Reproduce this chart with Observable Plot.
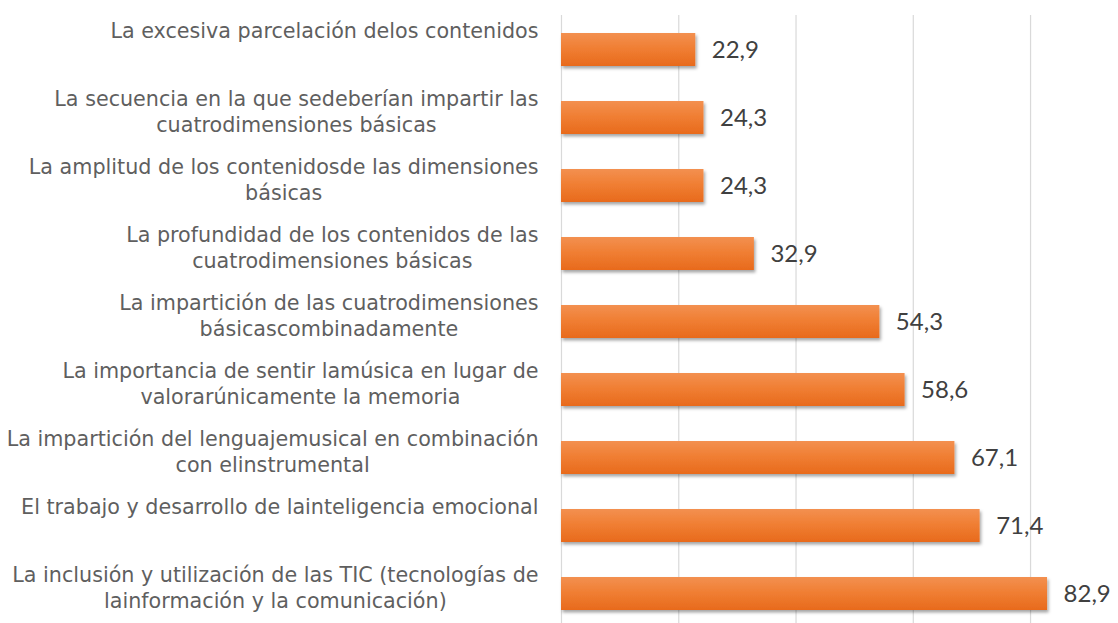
<!DOCTYPE html>
<html>
<head>
<meta charset="utf-8">
<script src="https://cdn.jsdelivr.net/npm/d3@7"></script>
<script src="https://cdn.jsdelivr.net/npm/@observablehq/plot@0.6"></script>
<style>
  html, body { margin: 0; padding: 0; background: #fff; }
  #chart { width: 1118px; height: 623px; overflow: hidden; }
</style>
</head>
<body>
<div id="chart"></div>
<script>
const categories = [
  "La excesiva parcelación delos contenidos",
  "La secuencia en la que sedeberían impartir las\ncuatrodimensiones básicas",
  "La amplitud de los contenidosde las dimensiones\nbásicas",
  "La profundidad de los contenidos de las\ncuatrodimensiones básicas",
  "La impartición de las cuatrodimensiones\nbásicascombinadamente",
  "La importancia de sentir lamúsica en lugar de\nvalorarúnicamente la memoria",
  "La impartición del lenguajemusical en combinación\ncon elinstrumental",
  "El trabajo y desarrollo de lainteligencia emocional",
  "La inclusión y utilización de las TIC (tecnologías de\nlainformación y la comunicación)"
];
const values = [22.9, 24.3, 24.3, 32.9, 54.3, 58.6, 67.1, 71.4, 82.9];
const gridTicks = [0, 20, 40, 60, 80, 100];

const W = 1118, H = 623, ML = 561;
const xDomain = [0, 95];
const labelFont = "DejaVu Sans";
const labelSize = 20.7;
const labelGap = 23;

// measure widest line of each label so the block is right-aligned with centered lines
const cvs = document.createElement("canvas").getContext("2d");
cvs.font = `${labelSize}px "${labelFont}"`;
const blockWidth = c => d3.max(c.split("\n"), l => cvs.measureText(l).width);
const xs = Plot.scale({x: {domain: xDomain, range: [ML, W]}});

const fmt = v => v.toFixed(1).replace(".", ",");
const data = categories.map((c, i) => ({
  category: c,
  value: values[i],
  labelX: xs.invert(ML - labelGap - blockWidth(c) / 2)
}));

const defs = () => {
  const d = d3.create("svg:defs");
  const g = d.append("linearGradient").attr("id", "barGrad")
    .attr("x1", 0).attr("y1", 0).attr("x2", 0).attr("y2", 1);
  g.append("stop").attr("offset", "0%").attr("stop-color", "#F39050");
  g.append("stop").attr("offset", "45%").attr("stop-color", "#F07F34");
  g.append("stop").attr("offset", "100%").attr("stop-color", "#E86A1C");
  const f = d.append("filter").attr("id", "barShadow")
    .attr("x", "-5%").attr("y", "-20%").attr("width", "115%").attr("height", "160%");
  f.append("feDropShadow").attr("dx", 1.5).attr("dy", 2.5).attr("stdDeviation", 1.8)
    .attr("flood-color", "#000").attr("flood-opacity", 0.35);
  return d.node();
};

const chart = Plot.plot({
  width: W,
  height: H,
  marginTop: 15,
  marginBottom: 0,
  marginLeft: ML,
  marginRight: 0,
  style: {background: "#fff", fontFamily: "Lato, sans-serif"},
  x: {domain: xDomain, axis: null},
  y: {domain: categories, range: [13.5, 630], paddingInner: 0.52, paddingOuter: 0.26, axis: null},
  marks: [
    defs,
    Plot.ruleX(gridTicks.filter(t => t <= xDomain[1]), {stroke: "#D9D9D9", strokeWidth: 1.2}),
    Plot.barX(data, {x: "value", y: "category", fill: "url(#barGrad)",
      render: (index, scales, vals, dims, ctx, next) => {
        const g = next(index, scales, vals, dims, ctx);
        g.setAttribute("filter", "url(#barShadow)");
        return g;
      }}),
    Plot.text(data, {x: "value", y: "category", text: d => fmt(d.value), textAnchor: "start",
      dx: 16, fontSize: 24, fill: "#404040"}),
    Plot.text(data, {x: "labelX", y: "category", text: "category", textAnchor: "middle",
      lineAnchor: "top", dy: -30.5, lineHeight: 1.26, fontSize: labelSize, fill: "#5f5f5f",
      fontFamily: labelFont})
  ]
});

document.getElementById("chart").appendChild(chart);
</script>
</body>
</html>
